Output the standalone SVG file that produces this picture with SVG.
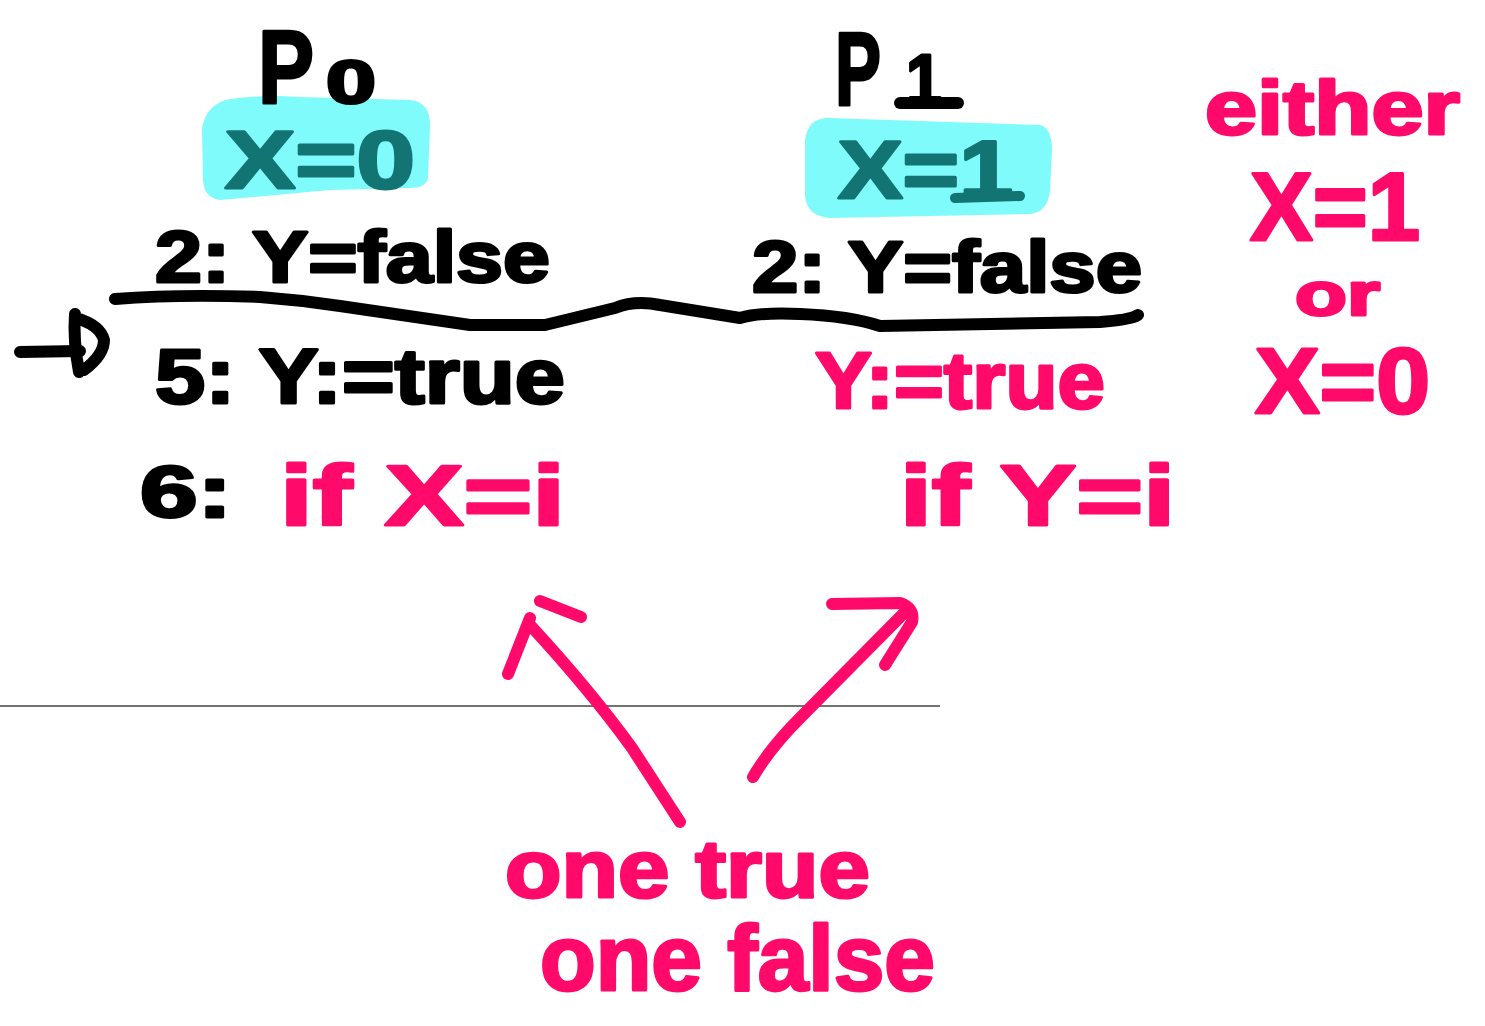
<svg xmlns="http://www.w3.org/2000/svg" width="1485" height="1026" viewBox="0 0 1485 1026">
  <style>
    .t { font-family: "Liberation Sans", Arial, sans-serif; font-weight: bold; stroke-width: 3; stroke-linejoin: round; stroke-linecap: round; }
    .blk { fill: #000; stroke: #000; }
    .pnk { fill: #ff0a6a; stroke: #ff0a6a; }
    .tel { fill: #137474; stroke: #137474; }
    .hl { fill: #80fbfb; }
    .pen { fill: none; stroke-linecap: round; stroke-linejoin: round; }
    .pen-b { stroke: #000; stroke-width: 12; }
    .pen-p { stroke: #ff0a6a; stroke-width: 12; }
  </style>

  <rect width="1485" height="1026" fill="#fff"/>

  <!-- thin separator -->
  <line x1="0" y1="706" x2="940" y2="706" stroke="#444" stroke-width="1.6"/>

  <!-- process P0 -->
  <g id="p0">
    <path class="hl" d="M225,100 Q260,94 300,97 L410,100 Q430,102 430,125 L428,178 Q426,188 410,188 L330,190 L220,200 Q204,198 203,180 L202,130 Q204,108 225,100 Z"/>
    <text class="t blk" x="258" y="103"><tspan font-size="104" textLength="56" lengthAdjust="spacingAndGlyphs">P</tspan><tspan x="326" font-size="62" textLength="50" lengthAdjust="spacingAndGlyphs">0</tspan></text>
    <text class="t tel" x="225" y="188" font-size="82" textLength="190" lengthAdjust="spacingAndGlyphs">X=0</text>
    <text class="t blk" x="155" y="282" font-size="72" textLength="395" lengthAdjust="spacingAndGlyphs">2: Y=false</text>
    <text class="t blk" x="155" y="403" font-size="78" textLength="410" lengthAdjust="spacingAndGlyphs">5: Y:=true</text>
    <text class="t blk" x="140" y="517" font-size="72" textLength="92" lengthAdjust="spacingAndGlyphs">6:</text>
    <text class="t pnk" x="280" y="525" font-size="86" textLength="285" lengthAdjust="spacingAndGlyphs">if X=i</text>
  </g>

  <!-- process P1 -->
  <g id="p1">
    <path class="hl" d="M828,118 L1040,125 Q1052,128 1052,150 L1050,190 Q1048,212 1030,214 L830,218 Q806,216 805,195 L805,140 Q808,118 828,118 Z"/>
    <text class="t blk" x="835" y="105"><tspan font-size="104" textLength="46" lengthAdjust="spacingAndGlyphs">P</tspan><tspan x="906" font-size="72" textLength="36" lengthAdjust="spacingAndGlyphs">1</tspan></text>
    <line class="pen pen-b" x1="900" y1="103" x2="958" y2="103"/>
    <text class="t tel" x="838" y="198" font-size="82" textLength="175" lengthAdjust="spacingAndGlyphs">X=1</text>
    <line class="pen" stroke="#137474" stroke-width="10" x1="955" y1="198" x2="1020" y2="196"/>
    <text class="t blk" x="752" y="292" font-size="72" textLength="390" lengthAdjust="spacingAndGlyphs">2: Y=false</text>
    <text class="t pnk" x="815" y="408" font-size="80" textLength="290" lengthAdjust="spacingAndGlyphs">Y:=true</text>
    <text class="t pnk" x="900" y="525" font-size="86" textLength="275" lengthAdjust="spacingAndGlyphs">if Y=i</text>
  </g>

  <!-- note on the right -->
  <g id="note">
    <text class="t pnk" x="1205" y="134" font-size="76" textLength="255" lengthAdjust="spacingAndGlyphs">either</text>
    <text class="t pnk" x="1250" y="240" font-size="96" textLength="170" lengthAdjust="spacingAndGlyphs">X=1</text>
    <text class="t pnk" x="1295" y="315" font-size="62" textLength="85" lengthAdjust="spacingAndGlyphs">or</text>
    <text class="t pnk" x="1255" y="413" font-size="92" textLength="175" lengthAdjust="spacingAndGlyphs">X=0</text>
  </g>

  <!-- caption -->
  <g id="caption">
    <text class="t pnk" x="505" y="897" font-size="82" textLength="365" lengthAdjust="spacingAndGlyphs">one true</text>
    <text class="t pnk" x="540" y="990" font-size="92" textLength="395" lengthAdjust="spacingAndGlyphs">one false</text>
  </g>

  <!-- connectors -->
  <g id="connectors">
    <!-- wavy separator line -->
    <path class="pen pen-b" d="M115,299 Q180,294 260,297 Q300,300 340,306 L470,325 L545,325 L615,308 Q635,300 660,305 L740,318 Q760,312 800,314 Q850,316 880,326 L1100,322 Q1130,320 1138,315"/>
    <!-- current-step pointer -->
    <path class="pen pen-b" stroke-width="15" d="M20,352 L80,351"/>
    <path class="pen pen-b" stroke-width="15" d="M75,314 Q73,340 79,372 M76,318 Q100,325 104,340 Q104,355 84,370"/>
    <!-- arrow to if X=i -->
    <path class="pen pen-p" d="M680,822 L632,748 Q590,690 530,625"/>
    <path class="pen pen-p" d="M508,674 L530,618 M540,601 L581,617"/>
    <!-- arrow to if Y=i -->
    <path class="pen pen-p" d="M753,777 Q770,748 800,718 L905,612"/>
    <path class="pen pen-p" d="M832,604 L900,603 Q915,608 912,622 L885,665"/>
  </g>
</svg>
